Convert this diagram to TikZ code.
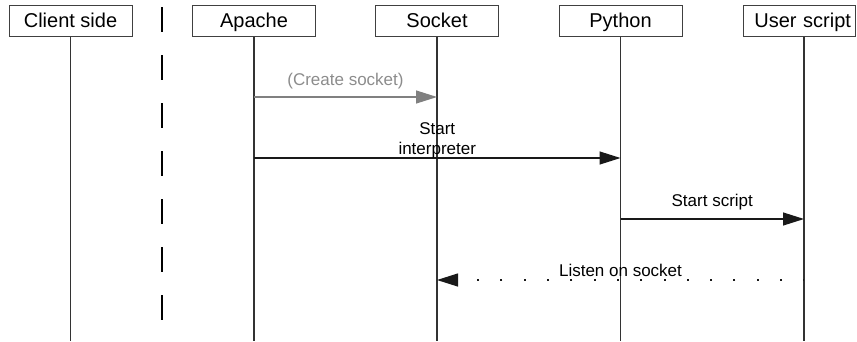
\documentclass[tikz,border=0pt]{standalone}
\usepackage{fontspec}
\setmainfont{Liberation Sans}
\usetikzlibrary{positioning, arrows.meta}

\begin{document}
\begin{tikzpicture}[x=1pt, y=-1pt,
    actor/.style={draw=black!75, line width=1pt, minimum width=123pt, minimum height=31pt, inner sep=0pt,
        text height=14.3pt, text depth=0pt, font=\fontsize{20}{24}\selectfont},
    life/.style={draw=black!80, line width=1.1pt},
    msg/.style={draw=black!90, line width=1.2pt, -{Triangle[length=21pt, width=13pt]}},
    lbl/.style={anchor=south, inner sep=0pt, text depth=0pt, align=center, font=\fontsize{17}{20}\selectfont}]
    \useasboundingbox (0,0) rectangle (857,341);
    % Boxes
    \node[actor] (client) at (70.5,20.5) {Client side};
    \node[actor] (apache) at (254,20.5) {Apache};
    \node[actor] (socket) at (437,20.5) {Socket};
    \node[actor] (python) at (620.5,20.5) {Python};
    \node[actor, minimum width=112pt, text width=104pt, align=right] (user) at (799,20.5) {User script};
    % Lifelines
    \coordinate (bottom) at (0,341);
    \coordinate (userline) at ([xshift=5pt]user.south);
    \foreach \a in {client, apache, socket, python}
        \draw[life] (\a.south) -- (\a.south |- bottom);
    \draw[life] (userline) -- (userline |- bottom);
    % Separator
    \draw[line width=1.4pt, dash pattern=on 25pt off 23pt] (162,7) -- (162,325);
    % Messages
    \coordinate (m1) at (0,97);
    \coordinate (m2) at (0,158);
    \coordinate (m3) at (0,219);
    \coordinate (m4) at (0,280);
    \draw[msg, draw=black!50] (apache |- m1) -- (socket |- m1)
        node[lbl, midway, yshift=11pt, text=black!45] {(Create socket)};
    \draw[msg] (apache |- m2) -- (python |- m2) node[lbl, midway, yshift=3pt] {Start\\interpreter};
    \draw[msg] (python |- m3) -- (userline |- m3) node[lbl, midway, yshift=12pt] {Start script};
    \draw[msg, dash pattern=on 2pt off 21.3pt, dash phase=1.3pt] (userline |- m4) -- (socket |- m4)
        node[lbl, midway, yshift=3pt] {Listen on socket};
\end{tikzpicture}
\end{document}
